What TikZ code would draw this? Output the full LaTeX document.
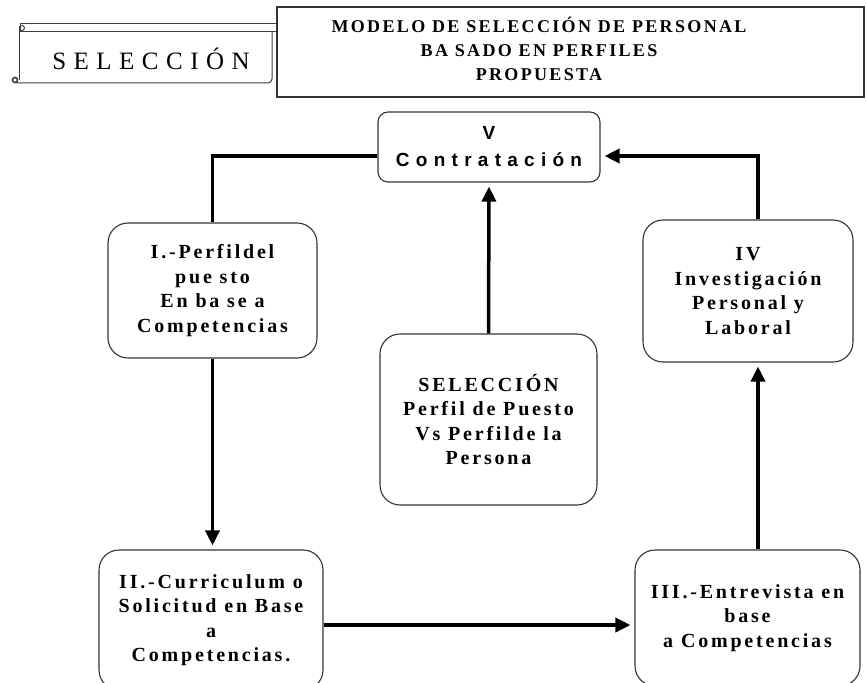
\documentclass[tikz,border=0pt]{standalone}
\usepackage{fontspec}
\setmainfont{Liberation Serif}
\newfontfamily\boxfont[LetterSpace=14]{Liberation Serif}
\newfontfamily\titlefont[LetterSpace=13]{Liberation Serif}
\newfontfamily\scrollfont[LetterSpace=30]{Liberation Serif}
\newfontfamily\contfont[LetterSpace=33]{Liberation Sans}
\usetikzlibrary{arrows.meta}
\begin{document}
\begin{tikzpicture}[x=1pt,y=-1pt,
  stagebox/.style={draw=black!80, line width=1.1pt, rounded corners=20pt, align=center, inner sep=0pt,
    font=\boxfont\bfseries\fontsize{20}{24.5}\selectfont},
  flow/.style={line width=3.5pt, -{Triangle[length=15pt,width=14pt]}, shorten >=4pt},
  plain/.style={line width=3.5pt},
  scrollline/.style={draw=black!75, line width=1pt}]
\useasboundingbox (0,0) rectangle (866,682);
\fill[white] (0,0) rectangle (866,682);
\clip (0,0) rectangle (866,682);

% scroll banner
\draw[scrollline] (20,24) rectangle (277,32);
\draw[scrollline] (19,26) -- (19,80);
\draw[scrollline] (16,83) -- (268,83) to[out=0,in=-90] (272,79) -- (272,32);
\draw[scrollline] (22,28) circle (2.5);
\draw[black!80, line width=1.5pt] (15,80) circle (2.5);
\node[font=\scrollfont\fontsize{25}{25}\selectfont] (sc) at (151,59) {SELECCIÓN};

% title box
\node[draw=black!80, line width=1.1pt, minimum width=587pt, minimum height=90pt, inner sep=0pt] (T) at (570.5,52) {};
\node[align=center, font=\titlefont\bfseries\fontsize{18}{24}\selectfont] (Tt) at (539,49)
  {MODELO DE SELECCIÓN DE PERSONAL\\BA SADO EN PERFILES\\PROPUESTA};

% stages
\node[stagebox, minimum width=222pt, minimum height=70pt, rounded corners=10pt,
  font=\contfont\bfseries\fontsize{19}{27}\selectfont] (V) at (489,147) {V\\Contratación};
\node[stagebox, minimum width=209pt, minimum height=135pt] (I) at (212.5,290.5)
  {I.-Perfildel\\pue sto\\En ba se a\\Competencias};
\node[stagebox, minimum width=210pt, minimum height=142pt] (IV) at (748,291)
  {IV\\Investigación\\Personal y\\Laboral};
\node[stagebox, minimum width=217pt, minimum height=171pt] (S) at (488.5,419.5)
  {SELECCIÓN\\Perfil de Puesto\\Vs Perfilde la\\Persona};
\node[stagebox, minimum width=224pt, minimum height=140pt] (II) at (211,620)
  {II.-Curriculum o\\Solicitud en Base\\a\\Competencias.};
\node[stagebox, minimum width=225pt, minimum height=136pt] (III) at (747.5,618)
  {III.-Entrevista en\\base\\a Competencias};

% connectors
\draw[plain] (I.north) |- ([yshift=-9pt]V.west);
\draw[flow] ([xshift=10pt]IV.north) |- ([yshift=-9pt]V.east);
\draw[flow] (S.north) -- (V.south);
\draw[flow] (I.south) -- (I.south |- II.north);
\draw[flow] ([yshift=-5pt]II.east) -- ([yshift=-7pt]III.west);
\draw[flow] ([xshift=10.5pt]III.north) -- ([xshift=10pt]IV.south);
\end{tikzpicture}
\end{document}
